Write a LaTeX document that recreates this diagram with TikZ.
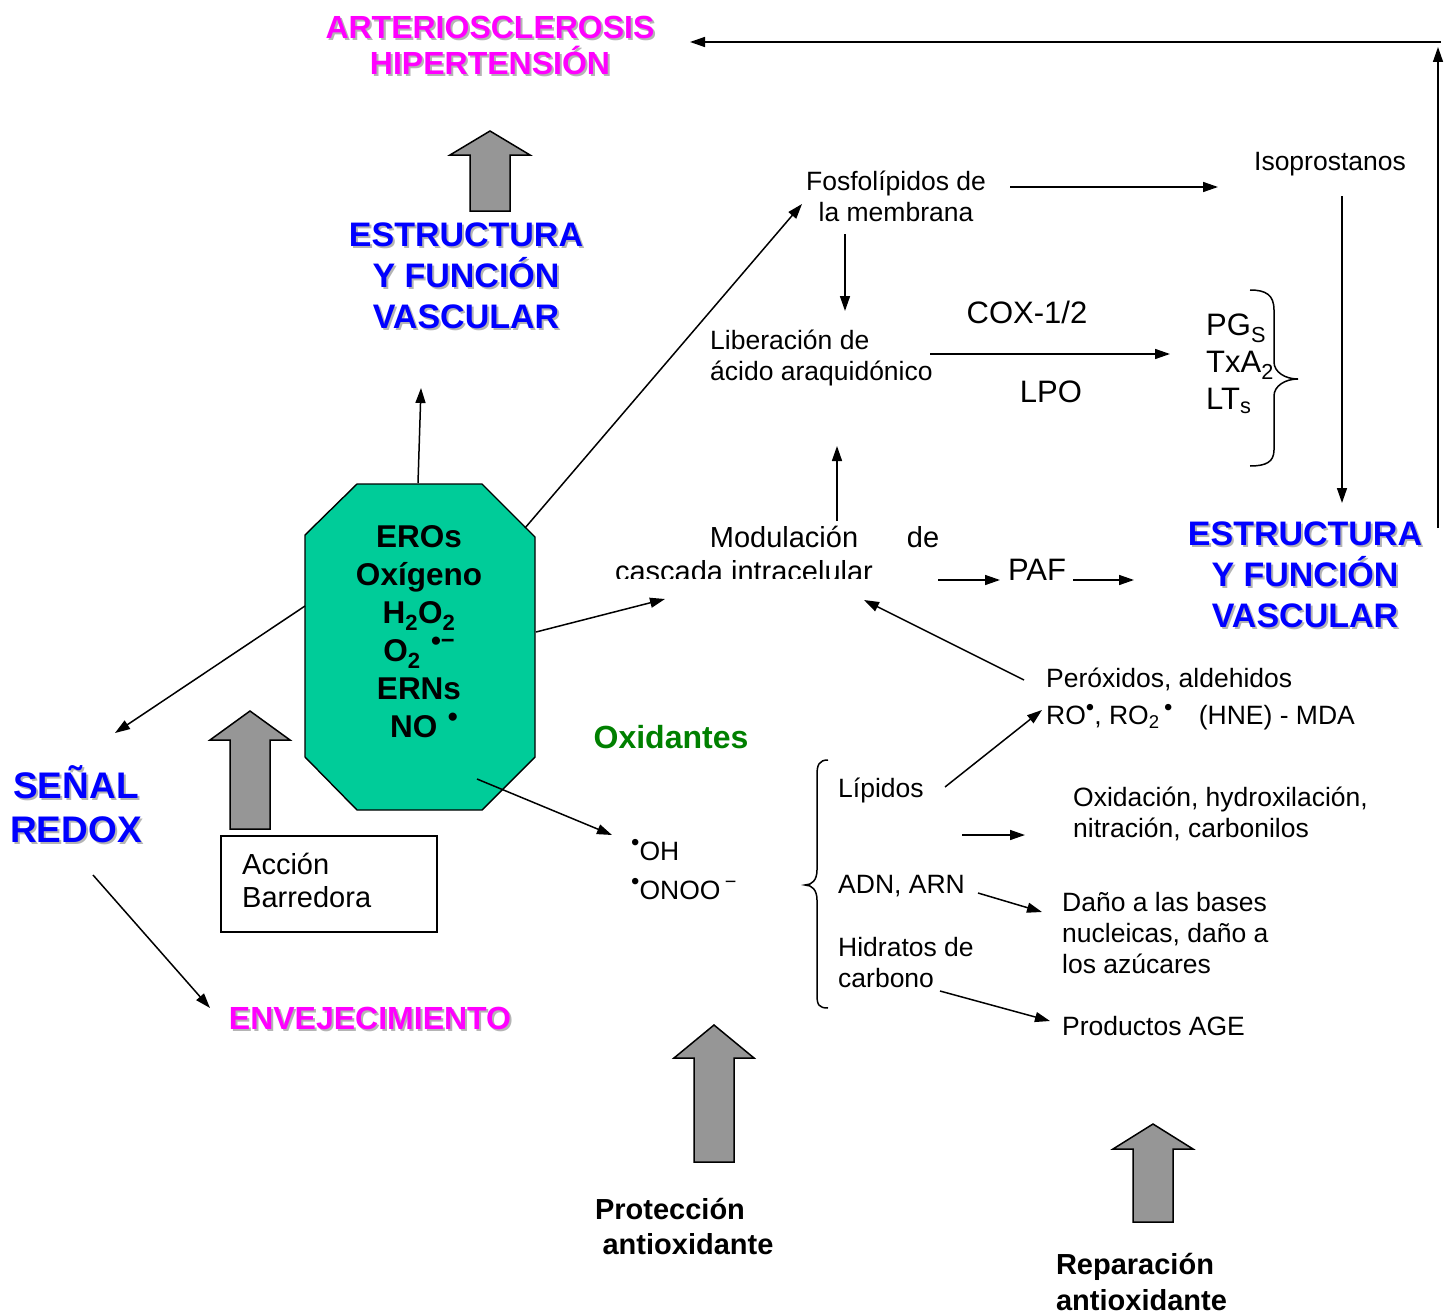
\documentclass[tikz,border=0pt]{standalone}
\usepackage{fontspec}
\setmainfont{Liberation Sans}
\usetikzlibrary{arrows.meta}
\definecolor{mag}{RGB}{255,0,255}
\definecolor{tblue}{RGB}{0,0,255}
\definecolor{tgreen}{RGB}{0,128,0}
\definecolor{octfill}{RGB}{0,204,153}
\definecolor{blockgray}{RGB}{150,150,150}
\definecolor{shadowgray}{RGB}{180,180,180}
\newcommand\shtext[5]{%
  \node[#4, text=shadowgray] (#1s) at (#2+2,#3+2) {#5};
  \node[#4] (#1) at (#2,#3) {#5};}
\newcommand\rad{\raisebox{0.36em}{\scalebox{0.9}{•}}}
\newcommand\radm{\raisebox{0.42em}{\scalebox{0.75}{−}}}
\begin{document}
\begin{tikzpicture}[x=1pt,y=-1pt,
  arr/.style={-{Triangle[length=15pt,width=10pt]}, line width=1.5pt},
  txt/.style={inner sep=0pt, font=\fontsize{26.5}{31}\selectfont},
  bigtxt/.style={inner sep=0pt, font=\fontsize{31}{37}\selectfont},
  ttl/.style={inner sep=0pt, align=center, text=tblue, font=\fontsize{34}{41}\selectfont\bfseries},
  magttl/.style={inner sep=0pt, align=center, text=mag, font=\fontsize{32}{36}\selectfont\bfseries},
  redttl/.style={inner sep=0pt, align=center, text=tblue, font=\fontsize{37}{44}\selectfont\bfseries},
  octtxt/.style={inner sep=0pt, align=center, font=\fontsize{31.5}{38}\selectfont\bfseries},
  boldtxt/.style={inner sep=0pt, font=\fontsize{29}{35}\selectfont\bfseries},
  blockarrow/.style={fill=blockgray, draw=black, line width=1.5pt, line join=miter},
  bracepath/.style={line width=1.5pt}
]
\useasboundingbox (0,0) rectangle (1444,1314);

% ---------- titles ----------
\shtext{arter}{490}{45}{magttl}{ARTERIOSCLEROSIS\\HIPERTENSIÓN}
\shtext{estrL}{466}{276}{ttl}{ESTRUCTURA\\Y FUNCIÓN\\VASCULAR}
\shtext{estrR}{1305}{575}{ttl}{ESTRUCTURA\\Y FUNCIÓN\\VASCULAR}
\shtext{senal}{76}{804}{redttl}{SEÑAL\\REDOX}
\shtext{env}{370}{1018}{magttl}{ENVEJECIMIENTO}

% ---------- block arrows ----------
\filldraw[blockarrow] (490,131) -- (530,155) -- (510,155) -- (510,211) -- (470,211) -- (470,155) -- (450,155) -- cycle;
\filldraw[blockarrow] (250,711) -- (290,740) -- (270,740) -- (270,829) -- (230,829) -- (230,740) -- (210,740) -- cycle;
\filldraw[blockarrow] (714,1025) -- (754,1058) -- (734,1058) -- (734,1162) -- (694,1162) -- (694,1058) -- (674,1058) -- cycle;
\filldraw[blockarrow] (1153,1124) -- (1193,1149) -- (1173,1149) -- (1173,1222) -- (1133,1222) -- (1133,1149) -- (1113,1149) -- cycle;

% ---------- octagon ----------
\filldraw[fill=octfill, draw=black, line width=1.4pt] (357,484) -- (482,484) -- (535,537) -- (535,757) -- (482,810) -- (357,810) -- (305,757) -- (305,535) -- cycle;
\node[octtxt] (oct) at (419,632) {EROs\\Oxígeno\hspace*{14pt}\\H\textsubscript{2}O\textsubscript{2}\\O\textsubscript{2}\,\,\rad\radm\\ERNs\\\hspace*{10pt}NO\,\,\rad};

% ---------- Acción barredora ----------
\node[draw, line width=1.4pt, minimum width=216, minimum height=96, inner sep=0pt] (accbox) at (329,884) {};
\node[txt, anchor=west, align=left, font=\fontsize{29}{33}\selectfont] (acc) at (242,880.5) {Acción\\Barredora};

% ---------- texts ----------
\node[txt, align=center] (fos) at (896,196.5) {Fosfolípidos de\\la membrana};
\node[txt] (iso) at (1330,164) {Isoprostanos};
\node[txt, anchor=west, align=left] (lib) at (710,358) {Liberación de\\ácido araquidónico};
\node[bigtxt] (cox) at (1027,312) {COX-1/2};
\node[bigtxt] (lpo) at (1051,392) {LPO};
\node[bigtxt, anchor=west, align=left] (pgs) at (1206,364) {PG\textsubscript{S}\\TxA\textsubscript{2}\\LT\textsubscript{s}};
\node[txt, font=\fontsize{29}{33}\selectfont] (mod1) at (784,537) {Modulación};
\node[txt, font=\fontsize{29}{33}\selectfont] (mod2) at (923,537) {de};
\begin{scope}
  \clip (600,550) rectangle (900,578);
  \node[txt, font=\fontsize{29}{33}\selectfont, anchor=base] (mod3) at (744,581) {cascada intracelular};
\end{scope}
\node[bigtxt] (paf) at (1037,570) {PAF};
\node[txt, anchor=west] (per) at (1046,679) {Peróxidos, aldehidos};
\node[txt, anchor=west] (ro) at (1046,717) {RO\rad, RO\textsubscript{2}\,\rad\quad(HNE) - MDA};
\node[inner sep=0pt, text=tgreen, font=\fontsize{32}{36}\selectfont\bfseries] (oxi) at (671,737) {Oxidantes};
\node[txt, anchor=west] (oh) at (631,850) {\rad OH};
\node[txt, anchor=west] (onoo) at (631,889) {\rad ONOO\,\radm};
\node[txt, anchor=west] (lip) at (838,790) {Lípidos};
\node[txt, anchor=west] (adn) at (838,886) {ADN, ARN};
\node[txt, anchor=west, align=left] (hid) at (838,962.5) {Hidratos de\\carbono};
\node[txt, anchor=west, align=left] (oxd) at (1073,813.5) {Oxidación, hydroxilación,\\nitración, carbonilos};
\node[txt, anchor=west, align=left] (dano) at (1062,933.5) {Daño a las bases\\nucleicas, daño a\\los azúcares};
\node[txt, anchor=west] (prod) at (1062,1026) {Productos AGE};
\node[boldtxt] (prot1) at (670,1209) {Protección};
\node[boldtxt] (prot2) at (688,1244) {antioxidante};
\node[boldtxt] (rep1) at (1135,1267) {Reparación};
\node[boldtxt] (rep2) at (1141.5,1300) {antioxidante};

% ---------- braces ----------
\draw[bracepath] (1250,290) .. controls (1266,290) and (1274,295) .. (1274,310) -- (1274,362) .. controls (1274,372) and (1285,379) .. (1298,379) .. controls (1285,379) and (1274,386) .. (1274,396) -- (1274,450) .. controls (1274,462) and (1266,466) .. (1250,466);
\draw[bracepath] (828,760) .. controls (819,760) and (817,765) .. (817,775) -- (817,870) .. controls (817,880) and (812,885) .. (805,885) .. controls (812,885) and (817,890) .. (817,900) -- (817,995) .. controls (817,1005) and (819,1008) .. (828,1008);

% ---------- connector end points ----------
\coordinate (c1s) at (1441,42);   \coordinate (c1e) at (690,42);
\coordinate (c2s) at (1438,528);  \coordinate (c2e) at (1438,47);
\coordinate (c3s) at (418,483);   \coordinate (c3e) at (421,388);
\coordinate (c4s) at (525,528);   \coordinate (c4e) at (802,204);
\coordinate (c5s) at (1010,187);  \coordinate (c5e) at (1218,187);
\coordinate (c6s) at (1342,196);  \coordinate (c6e) at (1342,503);
\coordinate (c7s) at (845,234);   \coordinate (c7e) at (845,311);
\coordinate (c8s) at (930,354);   \coordinate (c8e) at (1170,354);
\coordinate (c9s) at (837,521);   \coordinate (c9e) at (837,446);
\coordinate (c10s) at (536,632);  \coordinate (c10e) at (665,599);
\coordinate (c11s) at (938,580);  \coordinate (c11e) at (1000,580);
\coordinate (c12s) at (1073,580); \coordinate (c12e) at (1134,580);
\coordinate (c13s) at (1024,680); \coordinate (c13e) at (864,600);
\coordinate (c14s) at (305,606);  \coordinate (c14e) at (115,733);
\coordinate (c15s) at (93,875);   \coordinate (c15e) at (210,1008);
\coordinate (c16s) at (477,779);  \coordinate (c16e) at (612,835);
\coordinate (c17s) at (945,787);  \coordinate (c17e) at (1042,710);
\coordinate (c18s) at (962,835);  \coordinate (c18e) at (1025,835);
\coordinate (c19s) at (978,893);  \coordinate (c19e) at (1042,912);
\coordinate (c20s) at (940,991);  \coordinate (c20e) at (1050,1021);

\foreach \i in {1,...,20} {\draw[arr] (c\i s) -- (c\i e);}
\end{tikzpicture}
\end{document}
